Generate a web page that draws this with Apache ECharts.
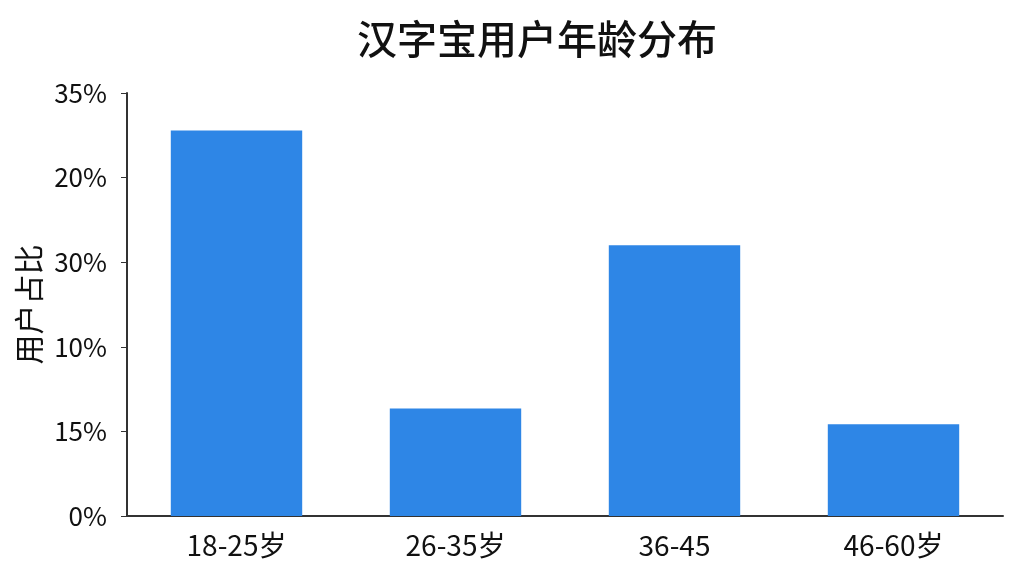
<!DOCTYPE html>
<html>
<head>
<meta charset="utf-8">
<script src="https://cdn.jsdelivr.net/npm/echarts@6/dist/echarts.min.js"></script>
<style>
    html, body { margin: 0; padding: 0; background: #fff; }
    #chart { width: 1024px; height: 576px; }
</style>
</head>
<body>
<div id="chart"></div>
<script>
'use strict';
const categories = ['18-25岁', '26-35岁', '36-45', '46-60岁'];
const shares = [31.9, 8.9, 22.4, 7.6];
// tick labels exactly as printed on the reference, bottom to top
const tickLabels = ['0%', '15%', '10%', '30%', '20%', '35%'];

let myChart = echarts.init(document.getElementById('chart'));
let option = {
    animation: false,
    title: {
        text: '汉字宝用户年龄分布',
        left: 352,
        top: 14,
        textStyle: {
            fontFamily: 'Noto Sans CJK SC',
            fontSize: 40,
            fontWeight: 500,
            color: '#111'
        }
    },
    grid: { left: 127, right: 21, top: 93, bottom: 60 },
    xAxis: {
        type: 'category',
        data: categories,
        axisLine: { lineStyle: { color: '#333', width: 2 } },
        axisTick: { show: false },
        axisLabel: {
            fontFamily: 'Noto Sans CJK SC',
            fontSize: 28,
            color: '#111',
            margin: 15
        }
    },
    yAxis: {
        type: 'value',
        min: 0,
        max: 35,
        interval: 7,
        name: '用户占比',
        nameLocation: 'middle',
        nameGap: 82,
        nameTextStyle: {
            fontFamily: 'Noto Sans CJK SC',
            fontSize: 30,
            color: '#111'
        },
        axisLine: { show: true, lineStyle: { color: '#333', width: 2 } },
        axisTick: { show: true, length: 6, lineStyle: { color: '#333' } },
        splitLine: { show: false },
        axisLabel: {
            fontFamily: 'Noto Sans CJK SC',
            fontSize: 26,
            color: '#111',
            margin: 20,
            formatter: function (v) {
                return tickLabels[Math.round(v / 7)];
            }
        }
    },
    series: [{
        type: 'bar',
        data: shares,
        barWidth: '60%',
        itemStyle: { color: '#2e86e6' }
    }]
};
myChart.setOption(option, true);
</script>
</body>
</html>
